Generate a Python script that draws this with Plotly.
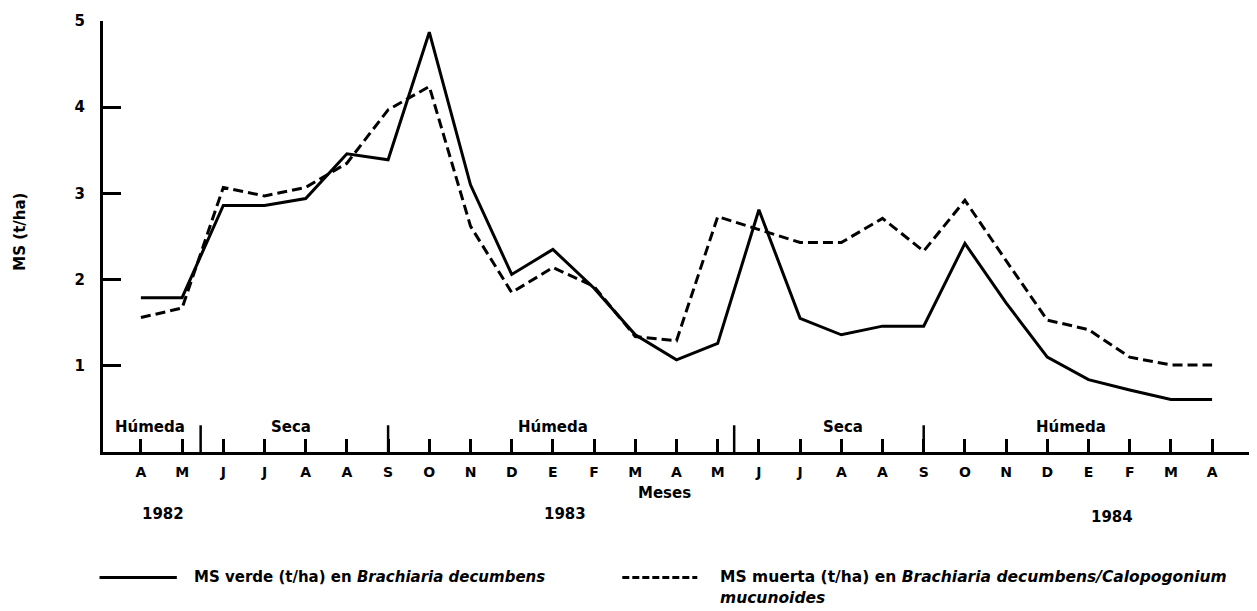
import plotly.graph_objects as go

months = ["A", "M", "J", "J", "A", "A", "S", "O", "N", "D", "E", "F", "M", "A",
          "M", "J", "J", "A", "A", "S", "O", "N", "D", "E", "F", "M", "A"]
ms_verde = [1.79, 1.79, 2.86, 2.86, 2.94, 3.46, 3.39, 4.87, 3.10, 2.06, 2.35, 1.90, 1.36, 1.07,
            1.26, 2.81, 1.55, 1.36, 1.46, 1.46, 2.42, 1.73, 1.10, 0.84, 0.72, 0.61, 0.61]
ms_muerta = [1.56, 1.67, 3.07, 2.97, 3.07, 3.35, 3.97, 4.24, 2.62, 1.85, 2.14, 1.92, 1.34, 1.29,
             2.73, 2.58, 2.43, 2.43, 2.71, 2.33, 2.92, 2.22, 1.53, 1.42, 1.10, 1.01, 1.01]
season_bounds = [1.45, 6, 14.4, 19]
season_names = ["Húmeda", "Seca", "Húmeda", "Seca", "Húmeda"]
season_pos = [0.22, 3.64, 10.0, 17.04, 22.57]
years = ["1982", "1983", "1984"]
year_pos = [0.53, 10.3, 23.57]

x = list(range(len(months)))
FONT = "DejaVu Sans, sans-serif"

def f(size, bold=True):
    return dict(size=size, color="black", family=FONT, weight="bold" if bold else "normal")

fig = go.Figure()
fig.add_trace(go.Scatter(x=x, y=ms_verde, mode="lines",
                         line=dict(color="black", width=3), showlegend=False))
fig.add_trace(go.Scatter(x=x, y=ms_muerta, mode="lines",
                         line=dict(color="black", width=3, dash="10px,5px"), showlegend=False))

shapes = []
for b in season_bounds:
    shapes.append(dict(type="line", xref="x", yref="y", x0=b, x1=b, y0=0, y1=0.31,
                       line=dict(color="black", width=2.5)))
# legend keys
shapes.append(dict(type="line", xref="paper", yref="paper", x0=-0.003, x1=0.064,
                   y0=-0.291, y1=-0.291, line=dict(color="black", width=3)))
shapes.append(dict(type="line", xref="paper", yref="paper", x0=0.45, x1=0.515,
                   y0=-0.291, y1=-0.291, line=dict(color="black", width=3, dash="7px,3px")))

annotations = []
for name, p in zip(season_names, season_pos):
    annotations.append(dict(x=p, y=0.29, xref="x", yref="y", text=name, showarrow=False,
                            font=f(15)))
for yr, p, yy in zip(years, year_pos, [-0.169, -0.169, -0.176]):
    annotations.append(dict(x=p, y=yy, xref="x", yref="paper", text=yr, showarrow=False,
                            font=f(15)))
annotations.append(dict(x=12.7, y=-0.121, xref="x", yref="paper", text="Meses", showarrow=False,
                        font=f(15)))
annotations.append(dict(x=-0.072, y=0.511, xref="paper", yref="paper", text="MS (t/ha)",
                        xanchor="center", yanchor="middle",
                        textangle=-90, showarrow=False, font=f(15)))
annotations.append(dict(x=0.077, y=-0.291, xref="paper", yref="paper", xanchor="left",
                        yanchor="middle",
                        text="MS verde (t/ha) en <i>Brachiaria decumbens</i>", showarrow=False,
                        font=f(15)))
annotations.append(dict(x=0.533, y=-0.291, xref="paper", yref="paper", xanchor="left", yanchor="middle",
                        text="MS muerta (t/ha) en <i>Brachiaria decumbens/Calopogonium</i>",
                        showarrow=False, font=f(15.5)))
annotations.append(dict(x=0.533, y=-0.339, xref="paper", yref="paper", xanchor="left", yanchor="middle",
                        text="<i>mucunoides</i>", showarrow=False, font=f(15.5)))

fig.update_layout(
    width=1249, height=603,
    margin=dict(l=95, r=0, t=13, b=159),
    paper_bgcolor="white", plot_bgcolor="white",
    shapes=shapes, annotations=annotations,
    xaxis=dict(range=[-0.92, 27.09], tickvals=x, ticktext=months, ticks="inside",
               ticklen=13, tickwidth=2.5, tickcolor="black", showline=True, linewidth=3,
               linecolor="black", showgrid=False, zeroline=False, ticklabelstandoff=5,
               automargin=False, tickfont=f(14)),
    yaxis=dict(range=[0, 5], tickvals=[1, 2, 3, 4, 5], ticks="inside", ticklen=18,
               tickwidth=3, tickcolor="black", showline=True, linewidth=3, linecolor="black",
               showgrid=False, zeroline=False, ticklabelstandoff=12, automargin=False,
               tickfont=f(15)),
)
fig.write_html("out.html")
